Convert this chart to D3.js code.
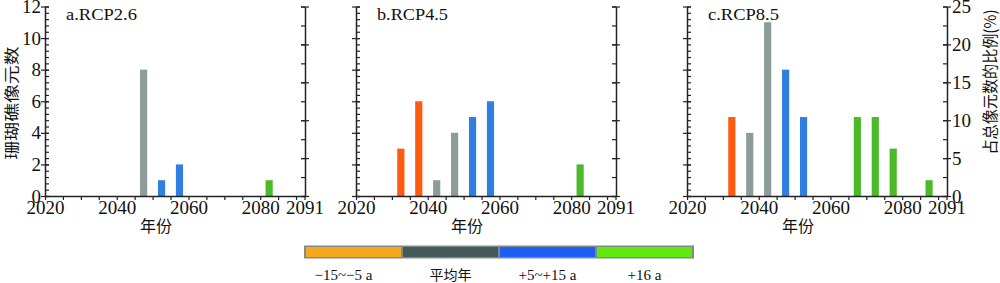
<!DOCTYPE html>
<html>
<head>
<meta charset="utf-8">
<script src="https://cdn.jsdelivr.net/npm/d3@7"></script>
<style>
body { margin: 0; background: #fff; }
svg text { fill: #111; }
.num { font-family: "Liberation Serif", serif; }
.cjk { font-family: "Noto Sans CJK SC", sans-serif; }
</style>
</head>
<body>
<div id="chart"></div>
<script>
// panels
var panelNames = ["a.RCP2.6", "b.RCP4.5", "c.RCP8.5"];
// bar centre years (5-year bins), pixel counts and group for each panel
var yearsA = [2047.5, 2052.5, 2057.5, 2082.5];
var countsA = [8, 1, 2, 1];
var groupsA = ["avg", "late", "late", "far"];

var yearsB = [2032.5, 2037.5, 2042.5, 2047.5, 2052.5, 2057.5, 2082.5];
var countsB = [3, 6, 1, 4, 5, 6, 2];
var groupsB = ["early", "early", "avg", "avg", "late", "late", "far"];

var yearsC = [2032.5, 2037.5, 2042.5, 2047.5, 2052.5, 2067.5, 2072.5, 2077.5, 2087.5];
var countsC = [5, 4, 11, 8, 5, 5, 5, 3, 1];
var groupsC = ["early", "avg", "avg", "late", "late", "far", "far", "far", "far"];

var xTickLabels = [2020, 2040, 2060, 2080];
var xEndLabel = "2091";
var leftTicks = [0, 2, 4, 6, 8, 10, 12];
var rightTicks = [0, 5, 10, 15, 20, 25];

var legendGroups = ["early", "avg", "late", "far"];
var legendLabels = ["\u221215~\u22125 a", "平均年", "+5~+15 a", "+16 a"];

var barColor = d3.scaleOrdinal()
  .domain(["early", "avg", "late", "far"])
  .range(["#fd5a12", "#8c9c99", "#2f7ee0", "#4cb928"]);
var legendColor = d3.scaleOrdinal()
  .domain(["early", "avg", "late", "far"])
  .range(["#f8a81f", "#445a58", "#1f5ef5", "#5ee80c"]);

var width = 1000, height = 283;
var panelX = [45, 356, 687];
var panelW = 260;
var y0 = 196, y1 = 6.5;
var numSize = 19;

var svg = d3.select("#chart").append("svg")
  .attr("width", width)
  .attr("height", height);

var y = d3.scaleLinear().domain([0, 12]).range([y0, y1]);
var yPct = d3.scaleLinear().domain([0, 25]).range([y0, y1]);

var panels = [
  {years: yearsA, counts: countsA, groups: groupsA},
  {years: yearsB, counts: countsB, groups: groupsB},
  {years: yearsC, counts: countsC, groups: groupsC}
];

panels.forEach(function(p, i) {
  var g = svg.append("g").attr("transform", "translate(" + panelX[i] + ",0)");
  var x = d3.scaleLinear().domain([2020, 2092.5]).range([0, panelW]);

  var rows = p.years.map(function(yr, k) { return {year: yr, n: p.counts[k], grp: p.groups[k]}; });

  // bars
  g.selectAll("rect.bar")
    .data(rows)
    .enter().append("rect")
    .attr("class", "bar")
    .attr("x", function(d) { return x(d.year - 1); })
    .attr("width", function(d) { return x(d.year + 1) - x(d.year - 1); })
    .attr("y", function(d) { return y(d.n); })
    .attr("height", function(d) { return y(0) - y(d.n); })
    .attr("fill", function(d) { return barColor(d.grp); });

  // bottom axis
  var xAxis = g.append("g").attr("transform", "translate(0," + y0 + ")")
    .call(d3.axisBottom(x)
      .tickValues(d3.range(2020, 2091, 5))
      .tickSizeInner(4).tickSizeOuter(0)
      .tickFormat(function(d) { return xTickLabels.indexOf(d) >= 0 ? d : ""; }));
  xAxis.selectAll("text").attr("class", "num").attr("font-size", numSize).attr("y", 5).attr("dy", "0.71em");
  xAxis.append("line").attr("x1", panelW).attr("x2", panelW).attr("y1", 0).attr("y2", 4)
    .attr("stroke", "#222").attr("stroke-width", 1.2);
  xAxis.append("text").attr("class", "num").attr("x", panelW).attr("y", 5).attr("dy", "0.71em")
    .attr("text-anchor", "middle").attr("font-size", numSize).attr("fill", "#111").text(xEndLabel);

  // left axis: minor ticks inward, major ticks crossing
  var lMinor = g.append("g").call(d3.axisRight(y).tickValues(d3.range(0, 12.01, 0.4)).tickSize(4).tickFormat(""));
  lMinor.select(".domain").remove();
  var lMajor = g.append("g").call(d3.axisLeft(y).tickValues(leftTicks).tickSizeInner(4).tickSizeOuter(0)
    .tickFormat(i === 0 ? d3.format("d") : ""));
  lMajor.selectAll(".tick line").attr("x2", -4).attr("x1", 4);
  lMajor.selectAll("text").attr("class", "num").attr("font-size", numSize).attr("x", -4);

  // right axis
  var r = g.append("g").attr("transform", "translate(" + panelW + ",0)");
  var rMinor = r.append("g").call(d3.axisLeft(yPct).tickValues(d3.range(0, 25.1, 2.5)).tickSize(4).tickFormat(""));
  rMinor.select(".domain").remove();
  var rMajor = r.append("g").call(d3.axisRight(yPct).tickValues(rightTicks).tickSizeInner(4).tickSizeOuter(0)
    .tickFormat(i === 2 ? d3.format("d") : ""));
  rMajor.selectAll(".tick line").attr("x1", -4).attr("x2", 4);
  rMajor.selectAll("text").attr("class", "num").attr("font-size", numSize).attr("x", 5);

  g.selectAll(".tick line").attr("stroke", "#222").attr("stroke-width", 1.2);
  g.selectAll(".domain").attr("stroke", "#222").attr("stroke-width", 1.5);

  // panel label
  g.append("text").attr("class", "num")
    .attr("x", 21).attr("y", 20)
    .attr("font-size", 17)
    .attr("textLength", 71).attr("lengthAdjust", "spacingAndGlyphs")
    .text(panelNames[i]);

  // x title
  g.append("text").attr("class", "cjk")
    .attr("x", 111).attr("y", 232)
    .attr("text-anchor", "middle")
    .attr("font-size", 16)
    .text("年份");
});

// y titles
svg.append("text").attr("class", "cjk")
  .attr("transform", "translate(17,103) rotate(-90)")
  .attr("text-anchor", "middle")
  .attr("font-size", 15)
  .attr("textLength", 113).attr("lengthAdjust", "spacingAndGlyphs")
  .text("珊瑚礁像元数");

svg.append("text").attr("class", "cjk")
  .attr("transform", "translate(996,82) rotate(-90)")
  .attr("text-anchor", "middle")
  .attr("font-size", 16)
  .attr("textLength", 145).attr("lengthAdjust", "spacingAndGlyphs")
  .text("占总像元数的比例(%)");

// legend
var lx = d3.scaleBand().domain(legendGroups).range([305, 693]).paddingInner(0);
var leg = svg.append("g");
leg.append("rect").attr("x", 304).attr("y", 245.5).attr("width", 390).attr("height", 13)
  .attr("fill", "#7d8b8b");
leg.selectAll("rect.seg")
  .data(legendGroups)
  .enter().append("rect")
  .attr("class", "seg")
  .attr("x", function(d) { return lx(d) + 1; })
  .attr("y", 247)
  .attr("width", lx.bandwidth() - 2)
  .attr("height", 10)
  .attr("fill", function(d) { return legendColor(d); });
leg.selectAll("text")
  .data(legendGroups)
  .enter().append("text")
  .attr("class", function(d, k) { return k === 1 ? "cjk" : "num"; })
  .attr("x", function(d, k) { return lx(d) + lx.bandwidth() / 2 - (k === 0 ? 10 : 0); })
  .attr("y", 280)
  .attr("text-anchor", "middle")
  .attr("font-size", function(d, k) { return k === 1 ? 14 : 15; })
  .text(function(d, k) { return legendLabels[k]; });
</script>
</body>
</html>
